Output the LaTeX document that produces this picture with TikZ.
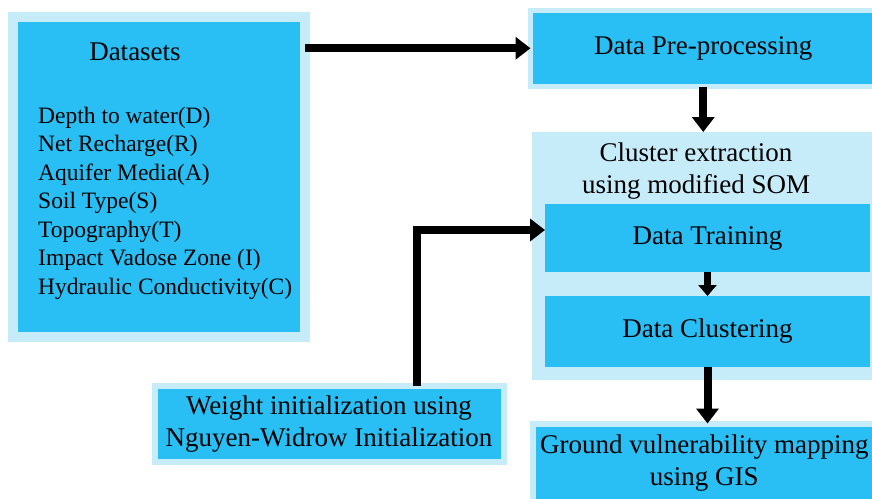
\documentclass[tikz,border=0pt]{standalone}
\usepackage{fontspec}
\setmainfont{Liberation Serif}
\usetikzlibrary{arrows.meta,calc}
\definecolor{boxblue}{RGB}{41,191,245}
\definecolor{paleblue}{RGB}{198,236,250}

\begin{document}
\begin{tikzpicture}[x=1pt,y=-1pt,
	box/.style={fill=boxblue, draw=paleblue, line width=6pt, outer sep=0pt, inner sep=0pt, align=center},
	sbox/.style={fill=boxblue, outer sep=0pt, inner sep=0pt},
	arr/.style={line width=8pt, -{Triangle[length=15pt,width=22pt]}}]
	\fontsize{27}{32}\selectfont
	\clip (0,0) rectangle (872,498);
	% left column
	\node[box, line width=10pt, minimum width=292pt, minimum height=320pt] (DS) at (158.5,177) {};
	\node (DH) at (135,52) {Datasets};
	\node[align=left, anchor=west, font=\fontsize{23.5}{28.5}\selectfont] (DL) at (29,203) {Depth to water(D)\\Net Recharge(R)\\Aquifer Media(A)\\Soil Type(S)\\Topography(T)\\Impact Vadose Zone (I)\\Hydraulic Conductivity(C)};
	\node[box, minimum width=349pt, minimum height=76.5pt] (WI) at (329,423.75) {Weight initialization using\\Nguyen-Widrow Initialization};
	% right column
	\node[box, line width=5pt, minimum width=345.5pt, minimum height=76.5pt] (PP) at (703.25,48.25) {Data Pre-processing};
	\node[fill=paleblue, inner sep=0pt, outer sep=0pt, minimum width=348pt, minimum height=248pt] (CE) at (706,256) {};
	\node[align=center] (CT) at (696,171.5) {Cluster extraction\\using modified SOM};
	\node[sbox, minimum width=325pt, minimum height=68pt] (DT) at (707.5,238) {Data Training};
	\node[sbox, minimum width=325pt, minimum height=71pt] (DC) at (707.5,331.5) {Data Clustering};
	\node[box, minimum width=343.5pt, minimum height=78.5pt] (GV) at (704.25,462.75) {Ground vulnerability mapping\\using GIS};
	% connectors
	\coordinate (K) at (417,230);
	\draw[arr] (DS.east |- PP.west) -- (PP.west);
	\draw[arr] (PP.south) -- (PP.south |- CE.north);
	\draw[arr, line width=7pt, -{Triangle[length=11pt,width=18pt]}] (DT.south) -- (DT.south |- DC.north);
	\draw[arr] (DC.south) -- (DC.south |- GV.north);
	\draw[arr] (WI.north -| K) |- (K -| DT.west);
\end{tikzpicture}
\end{document}
